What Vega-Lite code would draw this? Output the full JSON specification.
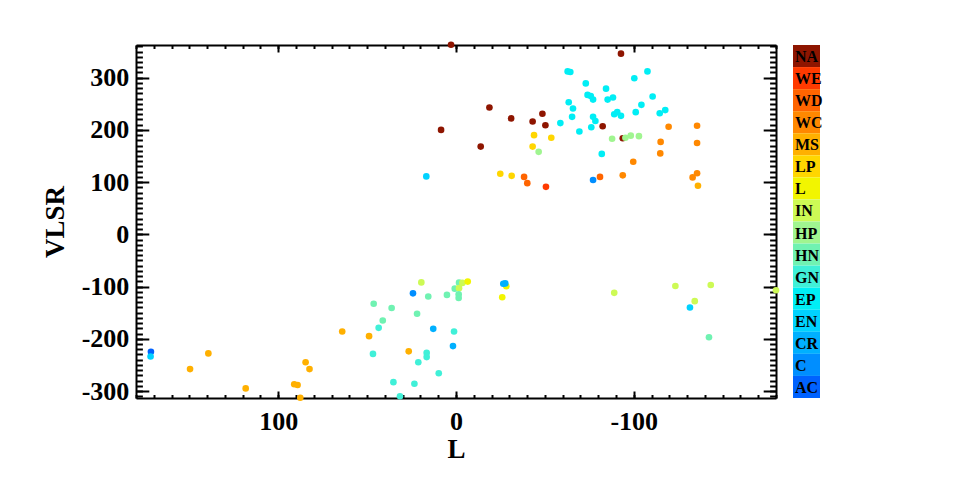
{
  "$schema": "https://vega.github.io/schema/vega-lite/v6.json",
  "padding": {"left": 41, "top": 41, "right": 5, "bottom": 5},
  "background": "white",
  "config": {
    "view": {"stroke": null},
    "font": "Liberation Serif",
    "axis": {"labelFont": "Liberation Serif", "titleFont": "Liberation Serif", "labelFontWeight": "bold", "titleFontWeight": "bold", "labelColor": "black", "titleColor": "black", "domainColor": "black", "tickColor": "black", "domainWidth": 2, "tickWidth": 2, "grid": false, "labelFontSize": 26, "titleFontSize": 27}
  },
  "hconcat": [
    {
      "width": 640,
      "height": 353,
      "data": {"name": "pts", "values": [
        {"L": 2.8, "V": 363, "c": "NA"}, {"L": -92.8, "V": 346, "c": "NA"},
        {"L": -62.8, "V": 312, "c": "EP"}, {"L": -64.3, "V": 311, "c": "EP"},
        {"L": -100.3, "V": 299, "c": "EP"}, {"L": -107.7, "V": 312, "c": "EP"},
        {"L": -73, "V": 289, "c": "EP"}, {"L": -84.4, "V": 279, "c": "EP"},
        {"L": -74, "V": 267, "c": "EP"}, {"L": -75.8, "V": 265, "c": "EP"},
        {"L": -77.1, "V": 258, "c": "EP"}, {"L": -85.3, "V": 258, "c": "EP"},
        {"L": -88.3, "V": 262, "c": "EP"}, {"L": -110.6, "V": 264, "c": "EP"},
        {"L": -18.8, "V": 243, "c": "NA"}, {"L": -63.4, "V": 253, "c": "EP"},
        {"L": -65.8, "V": 241, "c": "EP"}, {"L": -104.3, "V": 248, "c": "EP"},
        {"L": -48.6, "V": 231, "c": "NA"}, {"L": -31, "V": 222, "c": "NA"},
        {"L": -43.1, "V": 216, "c": "NA"}, {"L": -50.3, "V": 209, "c": "NA"},
        {"L": -101.1, "V": 234, "c": "EP"}, {"L": -89, "V": 230, "c": "EP"},
        {"L": -90.7, "V": 234, "c": "EP"}, {"L": -92.8, "V": 227, "c": "EP"},
        {"L": -114.6, "V": 232, "c": "EP"}, {"L": -117.7, "V": 238, "c": "EP"},
        {"L": -65.3, "V": 225, "c": "EP"}, {"L": -77.1, "V": 225, "c": "EP"},
        {"L": -78.4, "V": 217, "c": "EP"}, {"L": -58.7, "V": 213, "c": "EP"},
        {"L": -76.1, "V": 205, "c": "EP"}, {"L": -69.4, "V": 197, "c": "EP"},
        {"L": -82.5, "V": 207, "c": "NA"}, {"L": 8.4, "V": 200, "c": "NA"},
        {"L": -119.6, "V": 206, "c": "WC"}, {"L": -135.6, "V": 208, "c": "WC"},
        {"L": -43.9, "V": 190, "c": "LP"}, {"L": -53.6, "V": 185, "c": "LP"},
        {"L": -87.8, "V": 183, "c": "HP"}, {"L": -93.8, "V": 184, "c": "NA"},
        {"L": -95.3, "V": 185, "c": "HP"}, {"L": -98.3, "V": 189, "c": "HP"},
        {"L": -102.9, "V": 188, "c": "HP"}, {"L": -115.1, "V": 177, "c": "WC"},
        {"L": -135.6, "V": 175, "c": "WC"}, {"L": -43.1, "V": 168, "c": "LP"},
        {"L": -13.9, "V": 168, "c": "NA"}, {"L": -46.5, "V": 158, "c": "HP"},
        {"L": -82, "V": 154, "c": "EP"}, {"L": -114.9, "V": 155, "c": "WC"},
        {"L": -99.7, "V": 139, "c": "WC"}, {"L": -24.9, "V": 116, "c": "LP"},
        {"L": -31.3, "V": 112, "c": "LP"}, {"L": -38.3, "V": 110, "c": "WD"},
        {"L": -40.1, "V": 98, "c": "WD"}, {"L": -50.6, "V": 91, "c": "WE"},
        {"L": -77.1, "V": 104, "c": "C"}, {"L": -81, "V": 110, "c": "WD"},
        {"L": -93.8, "V": 113, "c": "WC"}, {"L": -133.1, "V": 109, "c": "WC"},
        {"L": -135.6, "V": 117, "c": "WC"}, {"L": -136.1, "V": 93, "c": "MS"},
        {"L": 16.7, "V": 111, "c": "EN"},
        {"L": 171.6, "V": -225, "c": "AC"}, {"L": 171.8, "V": -234, "c": "EN"},
        {"L": 139.3, "V": -228, "c": "MS"}, {"L": 149.6, "V": -258, "c": "MS"},
        {"L": 118.3, "V": -295, "c": "MS"}, {"L": 91, "V": -287, "c": "MS"},
        {"L": 89.1, "V": -288.5, "c": "MS"}, {"L": 87.6, "V": -313, "c": "MS"},
        {"L": 84.6, "V": -245, "c": "MS"}, {"L": 82.4, "V": -258, "c": "MS"},
        {"L": 64, "V": -186, "c": "MS"}, {"L": 48.9, "V": -195, "c": "MS"},
        {"L": 26.6, "V": -224, "c": "MS"}, {"L": 46.3, "V": -133, "c": "HN"},
        {"L": 36.2, "V": -141, "c": "HN"}, {"L": 41.2, "V": -165, "c": "HN"},
        {"L": 43.5, "V": -179, "c": "GN"}, {"L": 46.7, "V": -229, "c": "GN"},
        {"L": 35.2, "V": -283, "c": "GN"}, {"L": 31.5, "V": -310, "c": "GN"},
        {"L": 23.4, "V": -286, "c": "GN"}, {"L": 21.2, "V": -245, "c": "GN"},
        {"L": 16.5, "V": -227, "c": "GN"}, {"L": 16.5, "V": -235, "c": "GN"},
        {"L": 9.7, "V": -266, "c": "GN"}, {"L": 21.9, "V": -152, "c": "HN"},
        {"L": 24.2, "V": -113, "c": "C"}, {"L": 19.5, "V": -92, "c": "IN"},
        {"L": 15.6, "V": -119, "c": "HN"}, {"L": 12.8, "V": -181, "c": "CR"},
        {"L": 5.1, "V": -116, "c": "HN"}, {"L": 1.1, "V": -186, "c": "GN"},
        {"L": 1.7, "V": -214, "c": "CR"}, {"L": 0.7, "V": -104, "c": "HN"},
        {"L": -1.7, "V": -92.5, "c": "HN"}, {"L": -1.7, "V": -103, "c": "IN"},
        {"L": -1.5, "V": -115, "c": "HN"}, {"L": -1.5, "V": -122, "c": "HN"},
        {"L": -3.6, "V": -93, "c": "IN"}, {"L": -6.6, "V": -90.5, "c": "L"},
        {"L": -28.3, "V": -99.5, "c": "L"}, {"L": -26.6, "V": -94.5, "c": "CR"},
        {"L": -27.7, "V": -94, "c": "CR"}, {"L": -26, "V": -120.5, "c": "L"},
        {"L": -89, "V": -112, "c": "IN"}, {"L": -123.4, "V": -99, "c": "IN"},
        {"L": -143.3, "V": -97, "c": "IN"}, {"L": -134.3, "V": -128, "c": "IN"},
        {"L": -131.6, "V": -140, "c": "EN"}, {"L": -142.3, "V": -197, "c": "HN"},
        {"L": -180, "V": -107, "c": "IN"}
      ]},
      "resolve": {"axis": {"x": "independent", "y": "independent"}},
      "layer": [
        {
          "mark": {"type": "point", "opacity": 0},
          "encoding": {
            "x": {"field": "L", "type": "quantitative", "scale": {"domain": [180, -180], "nice": false, "zero": false},
              "axis": {"orient": "bottom", "values": [-180,-170,-160,-150,-140,-130,-120,-110,-100,-90,-80,-70,-60,-50,-40,-30,-20,-10,0,10,20,30,40,50,60,70,80,90,100,110,120,130,140,150,160,170,180], "labels": false, "domain": false, "tickSize": -3.5, "title": null}},
            "y": {"field": "V", "type": "quantitative", "scale": {"domain": [-313.4, 362.6], "nice": false, "zero": false},
              "axis": {"orient": "left", "values": [-310,-300,-290,-280,-270,-260,-250,-240,-230,-220,-210,-200,-190,-180,-170,-160,-150,-140,-130,-120,-110,-100,-90,-80,-70,-60,-50,-40,-30,-20,-10,0,10,20,30,40,50,60,70,80,90,100,110,120,130,140,150,160,170,180,190,200,210,220,230,240,250,260,270,280,290,300,310,320,330,340,350,360], "labels": false, "domain": false, "tickSize": -6.4, "title": null}}
          }
        },
        {
          "mark": {"type": "point", "opacity": 0},
          "encoding": {
            "x": {"field": "L", "type": "quantitative",
              "axis": {"orient": "top", "values": [-180,-170,-160,-150,-140,-130,-120,-110,-100,-90,-80,-70,-60,-50,-40,-30,-20,-10,0,10,20,30,40,50,60,70,80,90,100,110,120,130,140,150,160,170,180], "labels": false, "domain": false, "tickSize": -3.5, "title": null}},
            "y": {"field": "V", "type": "quantitative",
              "axis": {"orient": "right", "values": [-310,-300,-290,-280,-270,-260,-250,-240,-230,-220,-210,-200,-190,-180,-170,-160,-150,-140,-130,-120,-110,-100,-90,-80,-70,-60,-50,-40,-30,-20,-10,0,10,20,30,40,50,60,70,80,90,100,110,120,130,140,150,160,170,180,190,200,210,220,230,240,250,260,270,280,290,300,310,320,330,340,350,360], "labels": false, "domain": false, "tickSize": -6.4, "title": null}}
          }
        },
        {
          "mark": {"type": "point", "opacity": 0},
          "encoding": {
            "x": {"field": "L", "type": "quantitative",
              "axis": {"orient": "top", "values": [-100, 0, 100], "labels": false, "tickSize": -7, "title": null}},
            "y": {"field": "V", "type": "quantitative",
              "axis": {"orient": "right", "values": [-300, -200, -100, 0, 100, 200, 300], "labels": false, "tickSize": -12.8, "title": null}}
          }
        },
        {
          "mark": {"type": "circle", "size": 44, "opacity": 1},
          "encoding": {
            "x": {"field": "L", "type": "quantitative",
              "axis": {"orient": "bottom", "values": [-100, 0, 100], "tickSize": -7, "labelPadding": 17, "title": "L", "titlePadding": 2,
                "labelExpr": "datum.value < 0 ? '-' + abs(datum.value) : '' + datum.value"}},
            "y": {"field": "V", "type": "quantitative",
              "axis": {"orient": "left", "values": [-300, -200, -100, 0, 100, 200, 300], "tickSize": -12.8, "labelPadding": 20, "title": "VLSR", "titlePadding": 12,
                "labelExpr": "datum.value < 0 ? '-' + abs(datum.value) : '' + datum.value"}},
            "color": {"field": "c", "type": "nominal", "legend": null,
              "scale": {"domain": ["NA","WE","WD","WC","MS","LP","L","IN","HP","HN","GN","EP","EN","CR","C","AC"],
                "range": ["#8E1500","#FF3A00","#FF6400","#FF8800","#FFB000","#FFD600","#F2F500","#CDFA55","#A0F590","#70F2B2","#40F0D8","#00EEF5","#00D2FF","#00B0FF","#008EFF","#0062FF"]}}
          }
        }
      ]
    },
    {
      "width": 27,
      "height": 353,
      "data": {"values": [
        {"c": "NA"}, {"c": "WE"}, {"c": "WD"}, {"c": "WC"}, {"c": "MS"}, {"c": "LP"}, {"c": "L"}, {"c": "IN"},
        {"c": "HP"}, {"c": "HN"}, {"c": "GN"}, {"c": "EP"}, {"c": "EN"}, {"c": "CR"}, {"c": "C"}, {"c": "AC"}
      ]},
      "encoding": {
        "y": {"field": "c", "type": "nominal", "axis": null,
          "sort": ["NA","WE","WD","WC","MS","LP","L","IN","HP","HN","GN","EP","EN","CR","C","AC"],
          "scale": {"paddingInner": 0, "paddingOuter": 0}}
      },
      "layer": [
        {
          "mark": {"type": "rect"},
          "encoding": {
            "color": {"field": "c", "type": "nominal", "legend": null,
              "scale": {"domain": ["NA","WE","WD","WC","MS","LP","L","IN","HP","HN","GN","EP","EN","CR","C","AC"],
                "range": ["#8E1500","#FF3A00","#FF6400","#FF8800","#FFB000","#FFD600","#F2F500","#CDFA55","#A0F590","#70F2B2","#40F0D8","#00EEF5","#00D2FF","#00B0FF","#008EFF","#0062FF"]}}
          }
        },
        {
          "mark": {"type": "text", "align": "left", "baseline": "middle", "dx": -11.5, "dy": 1, "font": "Liberation Serif", "fontWeight": "bold", "fontSize": 16, "color": "black"},
          "encoding": {"text": {"field": "c"}}
        }
      ]
    }
  ],
  "spacing": 13
}
